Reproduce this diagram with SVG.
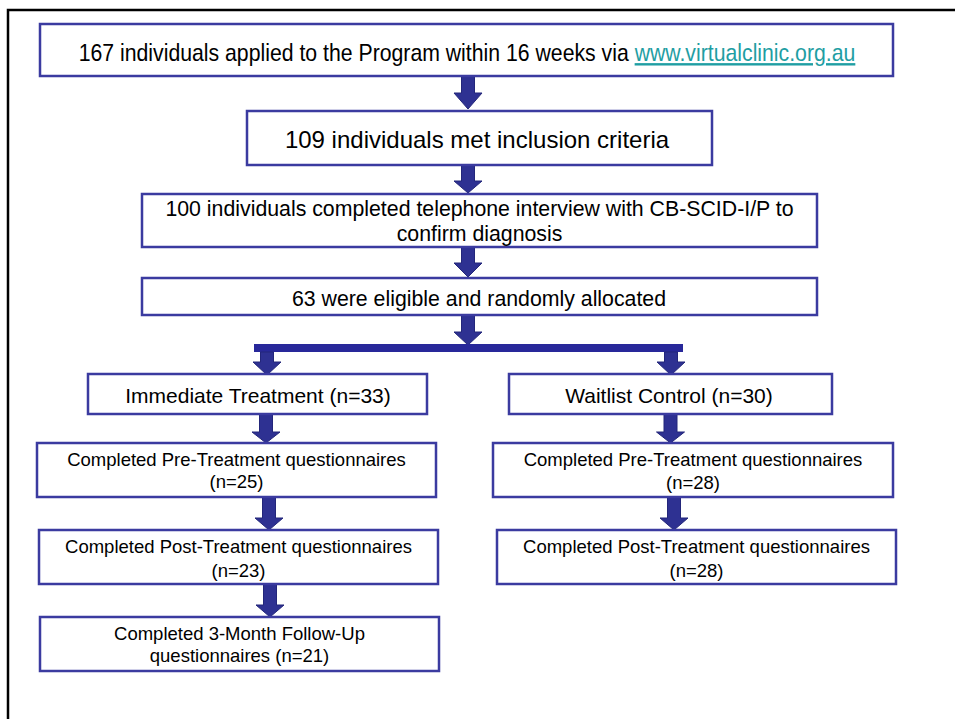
<svg xmlns="http://www.w3.org/2000/svg" width="955" height="719" viewBox="0 0 955 719">
<style>
.box{fill:#fff;stroke:#3b3ba0;stroke-width:2.5}
.t{font-family:"Liberation Sans",Arial,sans-serif;fill:#000;text-anchor:middle}
.arr{fill:#2e3192;stroke:#23267a;stroke-width:1}
.link{fill:#1f9ea3;text-decoration:underline}
</style>
<rect x="0" y="0" width="955" height="719" fill="#fff"/>
<path d="M8,719 V10 H955" fill="none" stroke="#000" stroke-width="2.5"/>

<g id="connectors">
<polygon class="arr" points="461.5,76 474.5,76 474.5,93 482,93 468,109 454,93 461.5,93"/>
<polygon class="arr" points="461.5,165 474.5,165 474.5,181 482,181 468,193 454,181 461.5,181"/>
<polygon class="arr" points="461.5,247 474.5,247 474.5,263 482,263 468,277 454,263 461.5,263"/>
<polygon class="arr" points="461.5,315 474.5,315 474.5,332 482,332 468,345 454,332 461.5,332"/>
<rect x="254" y="344" width="429" height="8" fill="#28289a"/>
<polygon class="arr" points="260.5,352 273.5,352 273.5,362 281,362 267,375 253,362 260.5,362"/>
<polygon class="arr" points="664.5,352 677.5,352 677.5,362 685,362 671,375 657,362 664.5,362"/>
<polygon class="arr" points="259.5,414 272.5,414 272.5,432 280,432 266,443 252,432 259.5,432"/>
<polygon class="arr" points="262.5,497 275.5,497 275.5,518 283,518 269,530 255,518 262.5,518"/>
<polygon class="arr" points="263.5,584 276.5,584 276.5,605 284,605 270,617 256,605 263.5,605"/>
<polygon class="arr" points="664,414 677,414 677,432 684.5,432 670.5,443 656.5,432 664,432"/>
<polygon class="arr" points="667.5,497 680.5,497 680.5,518 688,518 674,530 660,518 667.5,518"/>
</g>

<g id="n1">
<rect class="box" x="40" y="24" width="853" height="52"/>
<text class="t" font-size="24" transform="translate(467,61) scale(0.885,1)">167 individuals applied to the Program within 16 weeks via <tspan class="link">www.virtualclinic.org.au</tspan></text>
</g>
<g id="n2">
<rect class="box" x="247" y="111" width="465" height="54"/>
<text class="t" font-size="24" x="477" y="148">109 individuals met inclusion criteria</text>
</g>
<g id="n3">
<rect class="box" x="142" y="194" width="675" height="53"/>
<text class="t" font-size="21.3" x="479.5" y="216">100 individuals completed telephone interview with CB-SCID-I/P to</text>
<text class="t" font-size="21.3" x="479.5" y="241">confirm diagnosis</text>
</g>
<g id="n4">
<rect class="box" x="142" y="278" width="675" height="37"/>
<text class="t" font-size="21.3" x="479" y="306">63 were eligible and randomly allocated</text>
</g>
<g id="n5">
<rect class="box" x="88" y="374" width="339" height="40"/>
<text class="t" font-size="21" x="258" y="403">Immediate Treatment (n=33)</text>
</g>
<g id="n6">
<rect class="box" x="509" y="374" width="323" height="40"/>
<text class="t" font-size="21" x="669" y="403">Waitlist Control (n=30)</text>
</g>
<g id="n7">
<rect class="box" x="37" y="443" width="399" height="54"/>
<text class="t" font-size="18.5" x="236.5" y="465.5">Completed Pre-Treatment questionnaires</text>
<text class="t" font-size="18.5" x="236.5" y="488">(n=25)</text>
</g>
<g id="n8">
<rect class="box" x="39" y="530" width="399" height="54"/>
<text class="t" font-size="18.5" x="238.5" y="552.5">Completed Post-Treatment questionnaires</text>
<text class="t" font-size="18.5" x="238.5" y="576.5">(n=23)</text>
</g>
<g id="n9">
<rect class="box" x="40" y="617" width="399" height="54"/>
<text class="t" font-size="18.5" x="239.5" y="640">Completed 3-Month Follow-Up</text>
<text class="t" font-size="18.5" x="239.5" y="662">questionnaires (n=21)</text>
</g>
<g id="n10">
<rect class="box" x="493" y="443" width="400" height="54"/>
<text class="t" font-size="18.5" x="693" y="466">Completed Pre-Treatment questionnaires</text>
<text class="t" font-size="18.5" x="693" y="489">(n=28)</text>
</g>
<g id="n11">
<rect class="box" x="497" y="530" width="399" height="54"/>
<text class="t" font-size="18.5" x="696.5" y="553">Completed Post-Treatment questionnaires</text>
<text class="t" font-size="18.5" x="696.5" y="577">(n=28)</text>
</g>
</svg>
